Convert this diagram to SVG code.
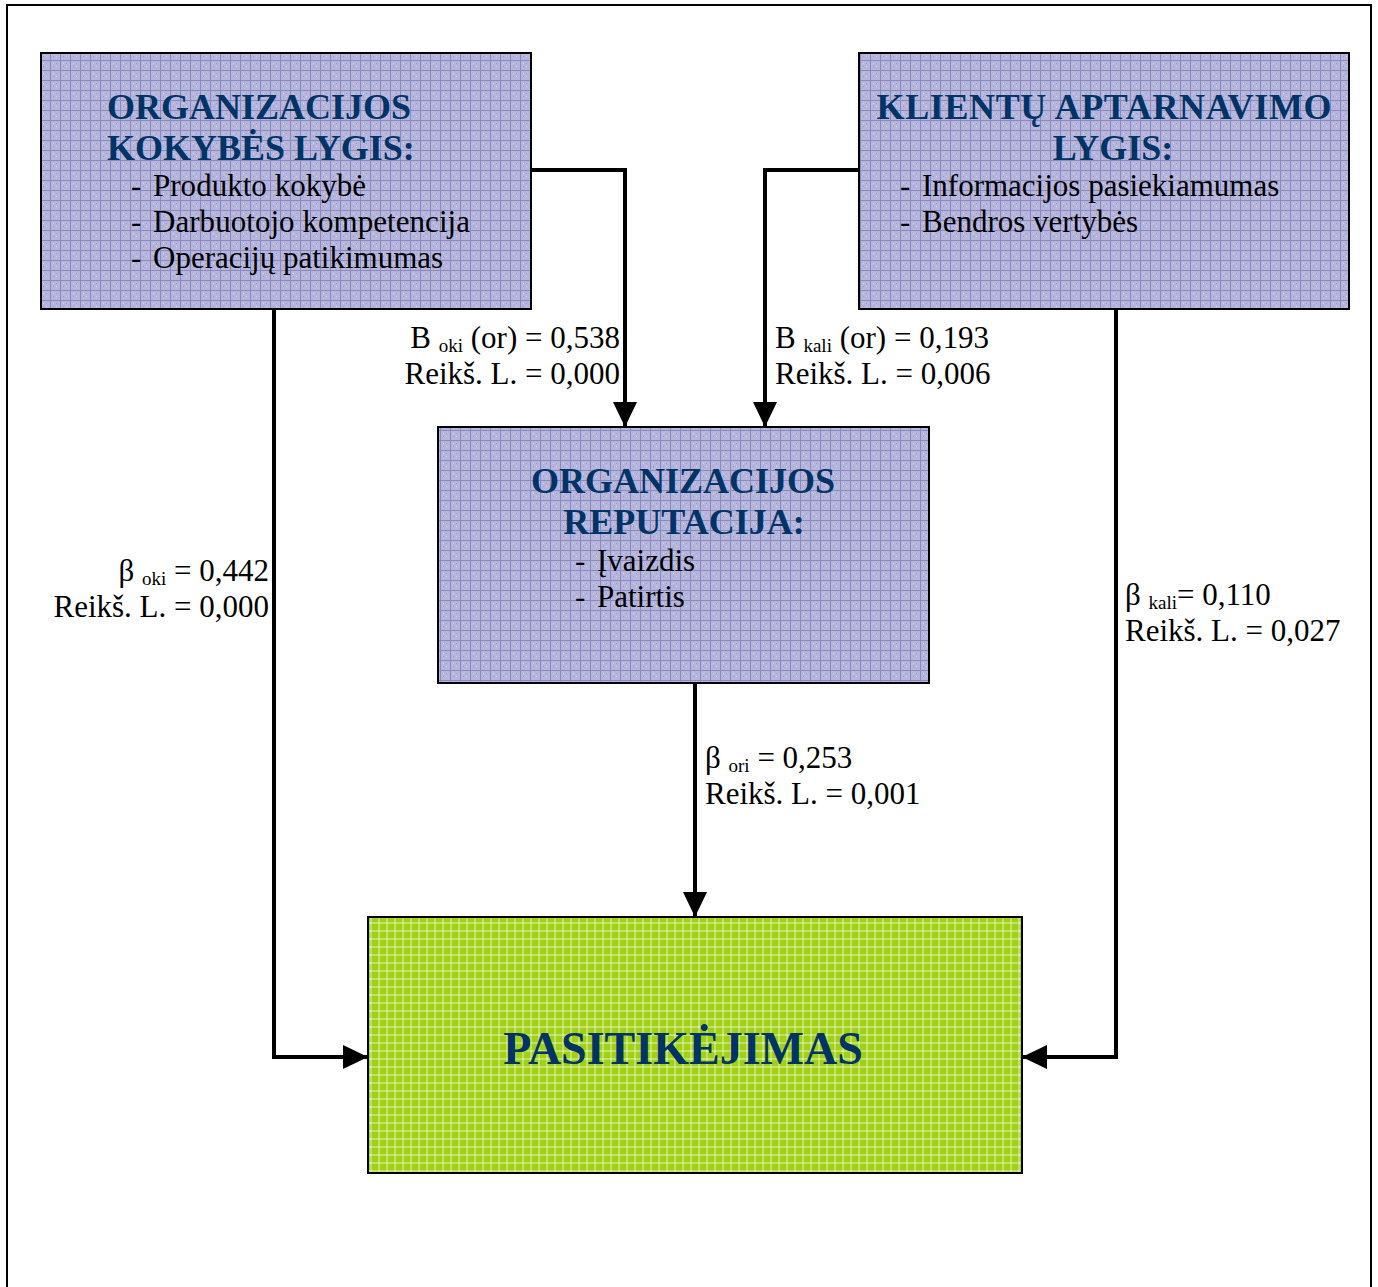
<svg xmlns="http://www.w3.org/2000/svg" width="1378" height="1287" viewBox="0 0 1378 1287">
<defs>
<pattern id="grid" width="10" height="10" patternUnits="userSpaceOnUse">
<rect width="10" height="10" fill="#b6b6dc"/>
<rect x="3" y="3" width="1" height="1" fill="#d4d4ec"/>
<rect x="6" y="6" width="1" height="1" fill="#d4d4ec"/>
<rect x="3" y="6" width="1" height="1" fill="#9a9acc"/>
<rect x="6" y="3" width="1" height="1" fill="#9a9acc"/>
<rect x="0" y="0" width="10" height="1" fill="#8a8ac0"/>
<rect x="0" y="0" width="1" height="10" fill="#8a8ac0"/>
</pattern>
<pattern id="greengrid" width="8" height="8" patternUnits="userSpaceOnUse">
<rect width="8" height="8" fill="#a2d014"/>
<rect x="0" y="2" width="8" height="2" fill="#bfe266"/>
<rect x="2" y="0" width="2" height="8" fill="#bfe266"/>
<rect x="2" y="2" width="2" height="2" fill="#d6ee98"/>
</pattern>
<marker id="arr" viewBox="0 0 25 24" refX="25" refY="12" markerWidth="25" markerHeight="24" markerUnits="userSpaceOnUse" orient="auto">
<path d="M0,0 L25,12 L0,24 z" fill="#000"/>
</marker>
<style>
.box{fill:url(#grid);stroke:#000;stroke-width:2}
.gbox{fill:url(#greengrid);stroke:#000;stroke-width:2}
.title{font-family:"Liberation Serif","Times New Roman",serif;font-weight:bold;font-size:36px;fill:#003366}
.body{font-family:"Liberation Serif","Times New Roman",serif;font-size:31px;fill:#000}
.lbl{font-family:"Liberation Serif","Times New Roman",serif;font-size:31px;fill:#000}
.sub{font-size:19px}
.conn{fill:none;stroke:#000;stroke-width:4;marker-end:url(#arr)}
</style>
</defs>
<rect width="1378" height="1287" fill="#fff"/>
<path d="M7,1287 L7,5 L1371,5 L1371,1287" fill="none" stroke="#000" stroke-width="2"/>

<g id="connectors">
<path class="conn" d="M531,170 L625,170 L625,427"/>
<path class="conn" d="M859,170 L765,170 L765,427"/>
<path class="conn" d="M274,309 L274,1057 L368,1057"/>
<path class="conn" d="M1116,309 L1116,1057 L1022,1057"/>
<path class="conn" d="M695,683 L695,917"/>
</g>

<g id="node-kokybe">
<rect class="box" x="41" y="53" width="490" height="256"/>
<text class="title" x="107" y="119">ORGANIZACIJOS</text>
<text class="title" x="107" y="160">KOKYBĖS LYGIS:</text>
<text class="body" x="131" y="196">-</text><text class="body" x="153" y="196" textLength="213">Produkto kokybė</text>
<text class="body" x="131" y="232">-</text><text class="body" x="153" y="232" textLength="317">Darbuotojo kompetencija</text>
<text class="body" x="131" y="268">-</text><text class="body" x="153" y="268">Operacijų patikimumas</text>
</g>

<g id="node-klientu">
<rect class="box" x="859" y="53" width="490" height="256"/>
<text class="title" x="1104" y="119" text-anchor="middle" textLength="455">KLIENTŲ APTARNAVIMO</text>
<text class="title" x="1113" y="160" text-anchor="middle">LYGIS:</text>
<text class="body" x="900" y="196">-</text><text class="body" x="922" y="196">Informacijos pasiekiamumas</text>
<text class="body" x="900" y="232">-</text><text class="body" x="922" y="232">Bendros vertybės</text>
</g>

<g id="node-reputacija">
<rect class="box" x="438" y="427" width="491" height="256"/>
<text class="title" x="683" y="493" text-anchor="middle">ORGANIZACIJOS</text>
<text class="title" x="684" y="534" text-anchor="middle">REPUTACIJA:</text>
<text class="body" x="575" y="571">-</text><text class="body" x="597" y="571">Įvaizdis</text>
<text class="body" x="575" y="607">-</text><text class="body" x="597" y="607">Patirtis</text>
</g>

<g id="node-pasitikejimas">
<rect class="gbox" x="368" y="917" width="654" height="256"/>
<text class="title" x="683" y="1064" text-anchor="middle" style="font-size:46px">PASITIKĖJIMAS</text>
</g>

<g id="labels">
<text class="lbl" x="620" y="348" text-anchor="end">B <tspan class="sub" dy="4">oki</tspan><tspan dy="-4"> (or) = 0,538</tspan></text>
<text class="lbl" x="620" y="384" text-anchor="end">Reikš. L. = 0,000</text>
<text class="lbl" x="775" y="348">B <tspan class="sub" dy="4">kali</tspan><tspan dy="-4"> (or) = 0,193</tspan></text>
<text class="lbl" x="775" y="384">Reikš. L. = 0,006</text>
<text class="lbl" x="269" y="581" text-anchor="end">β <tspan class="sub" dy="4">oki</tspan><tspan dy="-4"> = 0,442</tspan></text>
<text class="lbl" x="269" y="617" text-anchor="end">Reikš. L. = 0,000</text>
<text class="lbl" x="1125" y="605">β <tspan class="sub" dy="4">kali</tspan><tspan dy="-4">= 0,110</tspan></text>
<text class="lbl" x="1125" y="641">Reikš. L. = 0,027</text>
<text class="lbl" x="705" y="768">β <tspan class="sub" dy="4">ori</tspan><tspan dy="-4"> = 0,253</tspan></text>
<text class="lbl" x="705" y="804">Reikš. L. = 0,001</text>
</g>
</svg>
